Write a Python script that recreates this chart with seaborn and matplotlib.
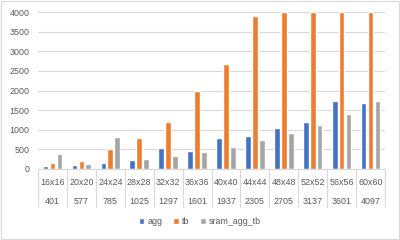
import numpy as np
import pandas as pd
import matplotlib
matplotlib.use("Agg")
import matplotlib.pyplot as plt
import matplotlib.transforms as mtransforms
from matplotlib.patches import Rectangle
import seaborn as sns

# values
sizes = ["16x16", "20x20", "24x24", "28x28", "32x32", "36x36",
         "40x40", "44x44", "48x48", "52x52", "56x56", "60x60"]
counts = ["401", "577", "785", "1025", "1297", "1601",
          "1937", "2305", "2705", "3137", "3601", "4097"]
agg = [80, 110, 150, 230, 535, 450, 790, 830, 1035, 1205, 1740, 1690]
tb = [160, 200, 500, 780, 1190, 2000, 2670, 3900, 4000, 4000, 4000, 4000]
sram_agg_tb = [370, 130, 810, 250, 320, 440, 565, 750, 915, 1125, 1400, 1725]

series_names = ["agg", "tb", "sram_agg_tb"]
palette = ["#4472C4", "#ED7D31", "#A5A5A5"]
TEXT = "#595959"
GRID = "#D9D9D9"
FS = 6.4

df = pd.DataFrame({
    "size": sizes * 3,
    "series": ["agg"] * 12 + ["tb"] * 12 + ["sram_agg_tb"] * 12,
    "value": agg + tb + sram_agg_tb,
})

sns.set_style("white")
plt.rcParams["font.family"] = ["Liberation Sans", "DejaVu Sans"]

fig = plt.figure(figsize=(4, 2.4), dpi=100)
ax = fig.add_axes([38 / 400, 1 - 169 / 240, 347 / 400, 157 / 240])

sns.barplot(data=df, x="size", y="value", hue="series", hue_order=series_names,
            palette=palette, width=0.72, gap=0.18, saturation=1, ax=ax, legend=True)

ax.set_ylim(0, 4000)
ax.set_xlim(-0.5, len(sizes) - 0.5)
ax.set_yticks(np.arange(0, 4001, 500))
ax.yaxis.grid(True, color=GRID, linewidth=0.8)
ax.set_axisbelow(True)
ax.set_xlabel("")
ax.set_ylabel("")
for side in ["left", "right", "top"]:
    ax.spines[side].set_visible(False)
ax.spines["bottom"].set_color(GRID)
ax.spines["bottom"].set_linewidth(0.8)
ax.tick_params(axis="y", length=0, labelsize=FS, labelcolor=TEXT, pad=6)
ax.tick_params(axis="x", length=0, labelbottom=False)

# two-level category axis
trans = mtransforms.blended_transform_factory(ax.transData, ax.transAxes)
for i, (s, c) in enumerate(zip(sizes, counts)):
    ax.text(i, -0.083, s, transform=trans, ha="center", va="center",
            fontsize=FS, color=TEXT)
    ax.text(i, -0.208, c, transform=trans, ha="center", va="center",
            fontsize=FS, color=TEXT)
for i in range(len(sizes) + 1):
    ax.plot([i - 0.5, i - 0.5], [0, -0.245], transform=trans, color=GRID,
            linewidth=0.8, clip_on=False)

handles, labels = ax.get_legend_handles_labels()
ax.get_legend().remove()
fig.legend(handles, labels, loc="center", bbox_to_anchor=(0.5, 0.076), ncol=3,
           frameon=False, fontsize=FS, labelcolor=TEXT, handlelength=0.6,
           handleheight=0.6, handletextpad=0.4, columnspacing=1.2)

fig.patches.append(Rectangle((0.002, 0.003), 0.995, 0.993, transform=fig.transFigure,
                             fill=False, edgecolor=GRID, linewidth=0.8))

fig.savefig("out.png", dpi=100)
